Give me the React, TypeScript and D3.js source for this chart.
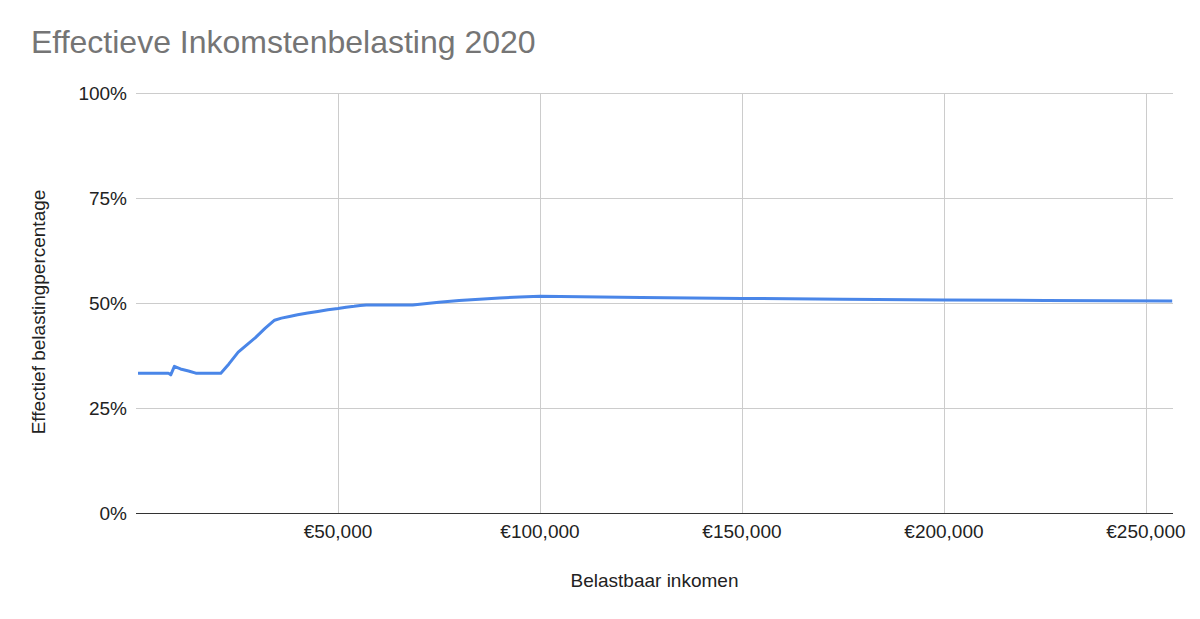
import React from "react";
import * as d3 from "d3";

const incomes: number[] = [500, 8000, 8600, 9500, 11000, 13000, 14800, 21000, 23000, 25300, 27500, 29500, 32000, 34300, 36000, 38000, 40000, 42500, 45000, 47500, 50000, 52000, 54000, 55500, 57000, 62000, 68500, 72000, 75000, 80000, 85000, 90000, 95000, 100000, 110000, 125000, 150000, 175000, 200000, 225000, 256500];
const rates: number[] = [0.333, 0.333, 0.329, 0.349, 0.343, 0.338, 0.333, 0.333, 0.355, 0.383, 0.401, 0.417, 0.44, 0.459, 0.464, 0.468, 0.472, 0.476, 0.48, 0.484, 0.487, 0.49, 0.492, 0.494, 0.495, 0.495, 0.495, 0.499, 0.502, 0.506, 0.509, 0.512, 0.514, 0.516, 0.515, 0.513, 0.511, 0.509, 0.507, 0.506, 0.505];
const xTicks: number[] = [50000, 100000, 150000, 200000, 250000];
const yTicks: number[] = [0, 0.25, 0.5, 0.75, 1];
const title = "Effectieve Inkomstenbelasting 2020";
const xTitle = "Belastbaar inkomen";
const yTitle = "Effectief belastingpercentage";

export default function App() {
  const W = 1200, H = 619;
  const left = 136, right = 1173, top = 93, bottom = 513;
  const x = d3.scaleLinear().domain([0, 256700]).range([left, right]);
  const y = d3.scaleLinear().domain([0, 1]).range([bottom, top]);
  const pts = incomes.map((v, i) => [v, rates[i]] as [number, number]);
  const line = d3.line<[number, number]>().x(d => x(d[0])).y(d => y(d[1])).curve(d3.curveLinear);
  const fmt = (v: number) => "€" + d3.format(",")(v);
  const font = "'Liberation Sans', Arial, sans-serif";
  return (
    <svg width={W} height={H} style={{ position: "absolute", left: 0, top: 0, background: "#fff" }} fontFamily={font}>
      <rect width={W} height={H} fill="#fff" />
      <text x={31} y={53} fontSize={32} fill="#757575">{title}</text>
      {yTicks.filter(t => t > 0).map(t => (
        <line key={"h" + t} x1={left} x2={right} y1={Math.round(y(t)) + 0.5} y2={Math.round(y(t)) + 0.5} stroke="#cccccc" strokeWidth={1} />
      ))}
      {xTicks.map(t => (
        <line key={"v" + t} x1={Math.round(x(t)) + 0.5} x2={Math.round(x(t)) + 0.5} y1={top} y2={bottom} stroke="#cccccc" strokeWidth={1} />
      ))}
      <line x1={left} x2={right} y1={bottom + 0.5} y2={bottom + 0.5} stroke="#333" strokeWidth={1} />
      {yTicks.map(t => (
        <text key={"yl" + t} x={127} y={y(t) + 7} fontSize={19} textAnchor="end" fill="#222">{Math.round(t * 100) + "%"}</text>
      ))}
      {xTicks.map(t => (
        <text key={"xl" + t} x={x(t)} y={538} fontSize={19} textAnchor="middle" fill="#222">{fmt(t)}</text>
      ))}
      <path d={line(pts) || ""} fill="none" stroke="#4a86e8" strokeWidth={3} strokeLinejoin="round" />
      <text x={(left + right) / 2} y={587} fontSize={19} textAnchor="middle" fill="#222">{xTitle}</text>
      <text transform={`translate(45, ${312}) rotate(-90)`} fontSize={19} textAnchor="middle" fill="#222">{yTitle}</text>
    </svg>
  );
}
